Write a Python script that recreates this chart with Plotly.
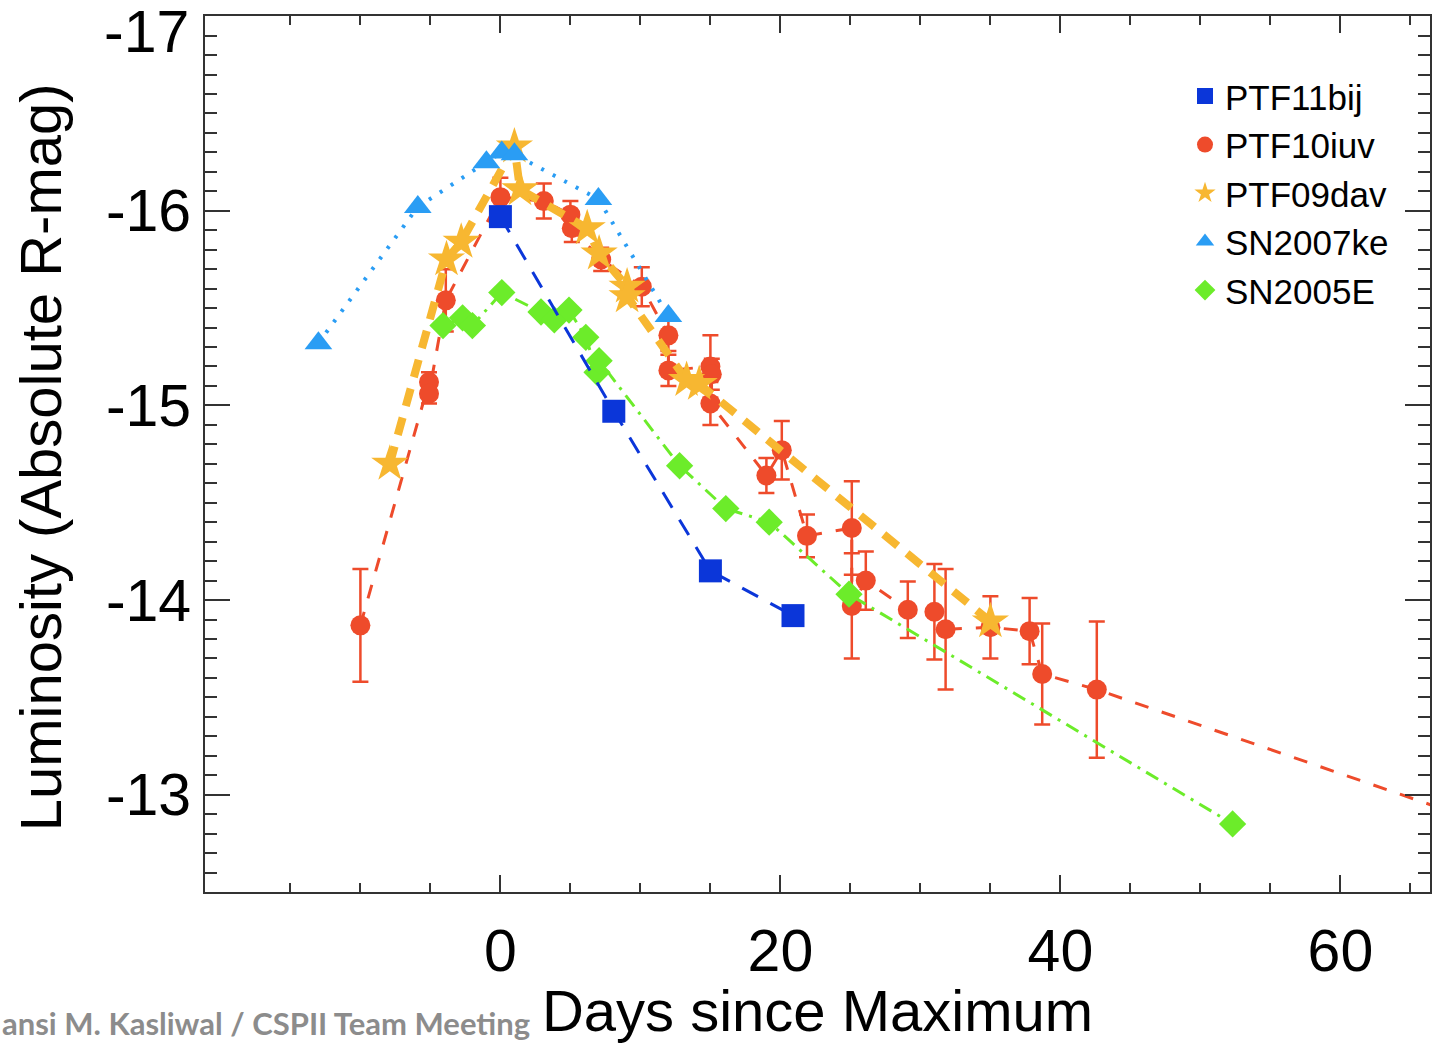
import plotly.graph_objects as go

# ---- data (days since maximum, absolute R mag) ----
bij_x = [0.0, 8.1, 15.0, 20.9]
bij_y = [-15.97, -14.97, -14.15, -13.92]

iuv_x = [-10.0, -5.1, -5.1, -3.9, 0.0, 3.1, 5.0, 5.1, 7.2, 10.1, 12.0, 12.0,
         15.0, 15.1, 15.0, 19.0, 20.1, 21.9, 25.1, 25.1, 26.1, 29.1, 31.0,
         31.8, 35.0, 37.8, 38.7, 42.6, 70.0]
iuv_y = [-13.87, -15.12, -15.06, -15.54, -16.07, -16.05, -15.98, -15.91,
         -15.75, -15.61, -15.36, -15.18, -15.20, -15.16, -15.01, -14.64,
         -14.77, -14.33, -14.37, -13.97, -14.10, -13.95, -13.94, -13.85,
         -13.86, -13.84, -13.62, -13.54, -12.86]
iuv_err = [0.29, 0.05, 0.05, 0.16, 0.10, 0.09, 0.07, 0.07, 0.06, 0.10, 0.08,
           0.08, 0.16, 0.08, 0.11, 0.09, 0.15, 0.11, 0.24, 0.27, 0.15, 0.145,
           0.245, 0.31, 0.16, 0.17, 0.26, 0.35, 0.0]

dav_x = [-7.9, -3.85, -2.8, 1.0, 1.4, 6.2, 7.05, 9.05, 9.05, 13.3, 14.2, 35.0]
dav_y = [-14.70, -15.75, -15.84, -16.33, -16.11, -15.91, -15.78, -15.61,
         -15.56, -15.13, -15.11, -13.89]

ke_x = [-13.0, -5.9, -1.0, 0.1, 1.0, 7.0, 12.0]
ke_y = [-15.32, -16.02, -16.25, -16.30, -16.29, -16.06, -15.46]

e_x = [-4.1, -2.7, -2.0, 0.1, 2.9, 3.85, 4.9, 6.1, 6.9, 7.05, 12.8, 16.1,
       19.2, 24.9, 52.3]
e_y = [-15.41, -15.45, -15.41, -15.58, -15.48, -15.44, -15.49, -15.35,
       -15.17, -15.23, -14.69, -14.47, -14.40, -14.03, -12.85]

names = ["PTF11bij", "PTF10iuv", "PTF09dav", "SN2007ke", "SN2005E"]
x_major = [0, 20, 40, 60]
x_minor = [-15, -10, -5, 5, 10, 15, 25, 30, 35, 45, 50, 55, 65]
y_major = [-17, -16, -15, -14, -13]
y_labels = ["-17", "-16", "-15", "-14", "-13"]

C_BIJ = "#0b36d9"
C_IUV = "#ee4b2b"
C_DAV = "#f7b731"
C_KE = "#2a9df4"
C_E = "#6cec2a"

FONT = "Liberation Sans"
TICK_SIZE = 59

fig = go.Figure()

fig.add_trace(go.Scatter(
    x=iuv_x, y=iuv_y, mode="lines+markers", showlegend=False,
    line=dict(color=C_IUV, width=3, dash="14px,14px"),
    marker=dict(symbol="circle", size=20, color=C_IUV),
    error_y=dict(type="data", array=iuv_err, color=C_IUV, thickness=2.5, width=8),
))
fig.add_trace(go.Scatter(
    x=dav_x, y=dav_y, mode="lines+markers", showlegend=False,
    line=dict(color=C_DAV, width=8, dash="18px,12px"),
    marker=dict(symbol="star", size=28, color=C_DAV),
))
fig.add_trace(go.Scatter(
    x=e_x, y=e_y, mode="lines+markers", showlegend=False,
    line=dict(color=C_E, width=3, dash="14px,7px,3px,7px"),
    marker=dict(symbol="diamond", size=21, color=C_E),
))
fig.add_trace(go.Scatter(
    x=ke_x, y=ke_y, mode="lines+markers", showlegend=False,
    line=dict(color=C_KE, width=4, dash="3px,10px"),
    marker=dict(symbol="triangle-up", size=24, color=C_KE),
))
fig.add_trace(go.Scatter(
    x=bij_x, y=bij_y, mode="lines+markers", showlegend=False,
    line=dict(color=C_BIJ, width=3, dash="18px,14px"),
    marker=dict(symbol="square", size=23, color=C_BIJ),
))

# legend entries (markers only)
for nm, sym, col, sz in zip(names,
                            ["square", "circle", "star", "triangle-up", "diamond"],
                            [C_BIJ, C_IUV, C_DAV, C_KE, C_E],
                            [20, 20, 27, 22, 20]):
    fig.add_trace(go.Scatter(x=[None], y=[None], mode="markers", name=nm,
                             marker=dict(symbol=sym, size=sz, color=col)))

axis_common = dict(
    showline=True, linewidth=2, linecolor="#333", mirror="allticks",
    ticks="inside", tickcolor="#333", tickwidth=2, showgrid=False,
    zeroline=False, tickfont=dict(family=FONT, size=TICK_SIZE, color="black"),
)

fig.update_xaxes(
    range=[-21.1, 66.4], tickmode="array", tickvals=x_major, ticklen=17,
    ticklabelstandoff=6,
    minor=dict(tickmode="array", tickvals=x_minor, ticks="inside", ticklen=9,
               tickwidth=1.5, tickcolor="#333", showgrid=False),
    title=dict(text="Days since Maximum", font=dict(family=FONT, size=58, color="black"),
               standoff=4),
    **axis_common,
)
# the top label (-17) would overflow the page if centred on its tick; it is
# drawn separately below, a little lower, as in the original figure
fig.update_yaxes(
    range=[-12.5, -17.0008], tickmode="array", tickvals=y_major[1:],
    ticktext=y_labels[1:], ticklen=25,
    minor=dict(dtick=0.1, tick0=-17, ticks="inside", ticklen=12, tickwidth=1.5,
               tickcolor="#333", showgrid=False),
    **axis_common,
)
fig.add_annotation(
    text=y_labels[0], xref="paper", yref="y", x=0, y=y_major[0],
    xanchor="right", yanchor="middle", xshift=-14, yshift=-16, showarrow=False,
    font=dict(family=FONT, size=TICK_SIZE, color="black"),
)
fig.add_annotation(
    text="Luminosity (Absolute R-mag)", textangle=-90,
    xref="paper", yref="paper", x=(40 - 205) / 1227, y=(892 - 457) / 876,
    xanchor="center", yanchor="middle", showarrow=False,
    font=dict(family=FONT, size=58, color="black"),
)
fig.add_annotation(
    text="<b>ansi M. Kasliwal / CSPII Team Meeting</b>",
    xref="paper", yref="paper", x=-205 / 1227, y=(892 - 1002) / 876,
    xanchor="left", yanchor="top", showarrow=False,
    font=dict(family="Lato", size=31, color="#8c8c8c"),
)

fig.update_layout(
    width=1433, height=1043,
    margin=dict(l=205, r=1, t=16, b=151),
    plot_bgcolor="white", paper_bgcolor="white",
    font=dict(family=FONT, color="black"),
    legend=dict(x=0.80, y=0.942, xanchor="left", yanchor="top",
                font=dict(family=FONT, size=35, color="black"),
                bgcolor="rgba(0,0,0,0)", borderwidth=0, tracegroupgap=0,
                itemsizing="trace"),
)

fig.write_html("out.html")
